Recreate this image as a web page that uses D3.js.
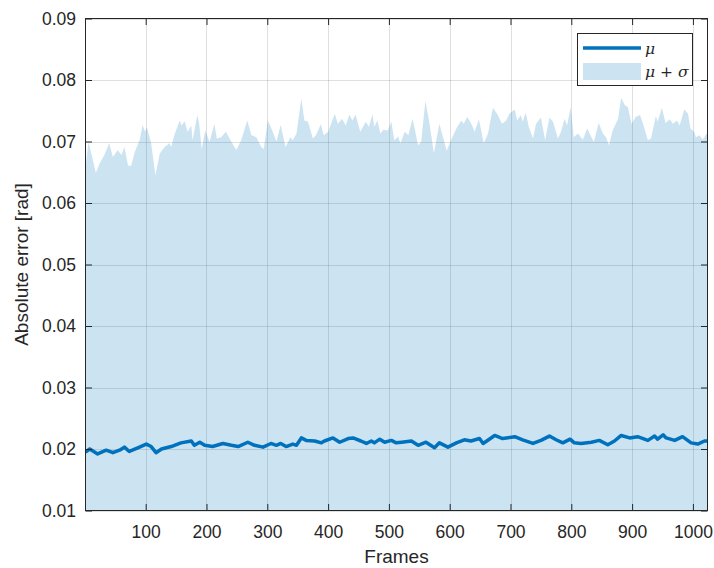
<!DOCTYPE html>
<html>
<head>
<meta charset="utf-8">
<script src="https://cdn.jsdelivr.net/npm/d3@7"></script>
<style>
  html, body { margin: 0; padding: 0; background: #fff; }
  svg { display: block; font-family: "Liberation Sans", Arial, Helvetica, sans-serif; }
</style>
</head>
<body>
<svg id="chart" width="714" height="568"></svg>
<script>
// Upper envelope (mean + std) of the absolute error per frame
const upperFrames = [1,6,18,24,32,40,46,54,60,65,71,76,82,90,95,99,102,109,116,123,131,139,142,147,156,159,164,169,175,177,185,188,192,198,205,213,217,224,232,241,249,257,267,274,282,290,294,301,308,315,322,330,338,342,348,356,361,367,375,380,388,393,400,411,416,423,429,435,440,445,453,462,467,473,476,481,486,491,498,504,509,515,519,526,532,539,548,553,560,566,574,583,595,602,611,619,623,629,637,641,648,656,663,671,678,686,693,698,707,711,717,720,725,730,737,742,750,757,764,770,778,783,789,793,799,804,811,819,826,837,845,852,857,862,868,877,882,888,893,899,906,913,918,926,931,939,942,949,955,962,967,974,978,986,992,996,1002,1005,1011,1016,1022,1024];
const upperValues = [0.0659,0.0699,0.0649,0.0664,0.0678,0.0697,0.0675,0.0686,0.0678,0.0691,0.0661,0.0660,0.0683,0.0702,0.0727,0.0716,0.0723,0.0697,0.0645,0.0680,0.0691,0.0697,0.0691,0.0710,0.0734,0.0726,0.0733,0.0716,0.0726,0.0702,0.0743,0.0729,0.0688,0.0718,0.0699,0.0729,0.0705,0.0707,0.0716,0.0699,0.0686,0.0702,0.0734,0.0710,0.0707,0.0691,0.0688,0.0734,0.0718,0.0700,0.0727,0.0691,0.0707,0.0702,0.0713,0.0770,0.0734,0.0732,0.0705,0.0710,0.0728,0.0710,0.0716,0.0745,0.0729,0.0737,0.0726,0.0744,0.0734,0.0744,0.0716,0.0732,0.0724,0.0744,0.0724,0.0734,0.0713,0.0719,0.0718,0.0732,0.0702,0.0708,0.0697,0.0716,0.0710,0.0737,0.0694,0.0699,0.0766,0.0734,0.0681,0.0729,0.0685,0.0702,0.0721,0.0734,0.0729,0.0740,0.0726,0.0716,0.0736,0.0697,0.0713,0.0755,0.0745,0.0729,0.0734,0.0745,0.0752,0.0734,0.0743,0.0732,0.0747,0.0724,0.0705,0.0729,0.0739,0.0702,0.0739,0.0732,0.0705,0.0716,0.0737,0.0726,0.0756,0.0707,0.0713,0.0703,0.0721,0.0699,0.0730,0.0713,0.0707,0.0694,0.0718,0.0737,0.0771,0.0759,0.0756,0.0729,0.0740,0.0743,0.0729,0.0702,0.0705,0.0741,0.0732,0.0755,0.0730,0.0736,0.0729,0.0734,0.0726,0.0752,0.0745,0.0721,0.0716,0.0707,0.0710,0.0703,0.0712,0.0712];

// Mean absolute error per frame
const meanFrames = [1,8,21,35,46,57,65,73,87,101,109,117,126,142,158,175,180,189,197,210,227,241,252,268,279,293,306,315,322,331,342,348,356,364,378,389,394,408,419,433,441,454,463,471,476,485,493,504,512,521,537,548,561,575,583,597,611,624,635,649,655,674,687,707,720,737,750,764,775,786,798,805,816,833,846,860,871,882,896,909,926,937,942,951,956,970,983,997,1008,1019,1024];
const meanValues = [0.0195,0.0200,0.0192,0.0198,0.0194,0.0198,0.0203,0.0196,0.0202,0.0208,0.0204,0.0194,0.0200,0.0204,0.0210,0.0213,0.0206,0.0211,0.0206,0.0204,0.0209,0.0206,0.0204,0.0211,0.0206,0.0203,0.0209,0.0206,0.0209,0.0204,0.0208,0.0206,0.0218,0.0214,0.0213,0.0210,0.0213,0.0218,0.0211,0.0217,0.0218,0.0213,0.0209,0.0213,0.0210,0.0216,0.0211,0.0214,0.0210,0.0211,0.0213,0.0206,0.0211,0.0202,0.0210,0.0203,0.0210,0.0215,0.0213,0.0217,0.0209,0.0222,0.0217,0.0220,0.0215,0.0209,0.0214,0.0221,0.0215,0.0210,0.0216,0.0210,0.0209,0.0211,0.0214,0.0207,0.0213,0.0222,0.0218,0.0220,0.0214,0.0221,0.0216,0.0223,0.0218,0.0214,0.0220,0.0210,0.0208,0.0213,0.0213];

const xTicks = [100,200,300,400,500,600,700,800,900,1000];
const yTicks = [0.01,0.02,0.03,0.04,0.05,0.06,0.07,0.08,0.09];
const legendLabels = ["μ", "μ + σ"];

const lineColor = "#0072BD";
const axisColor = "#262626";

const svg = d3.select("#chart");
const plotLeft = 85.5, plotRight = 707.5, plotTop = 18.5, plotBottom = 510.5;

const x = d3.scaleLinear().domain([1, 1024]).range([plotLeft, plotRight]);
const y = d3.scaleLinear().domain([0.01, 0.09]).range([plotBottom, plotTop]);

svg.append("defs").append("clipPath").attr("id", "plotClip")
  .append("rect").attr("x", plotLeft).attr("y", plotTop)
  .attr("width", plotRight - plotLeft).attr("height", plotBottom - plotTop);

// white plot background
svg.append("rect").attr("x", plotLeft).attr("y", plotTop)
  .attr("width", plotRight - plotLeft).attr("height", plotBottom - plotTop).attr("fill", "#fff");

// grid
const grid = svg.append("g").attr("stroke", axisColor).attr("stroke-opacity", 0.15).attr("stroke-width", 1);
xTicks.forEach(t => grid.append("line")
  .attr("x1", Math.round(x(t)) + 0.5).attr("x2", Math.round(x(t)) + 0.5)
  .attr("y1", plotTop).attr("y2", plotBottom));
yTicks.forEach(t => grid.append("line")
  .attr("x1", plotLeft).attr("x2", plotRight)
  .attr("y1", Math.round(y(t)) + 0.5).attr("y2", Math.round(y(t)) + 0.5));

const plot = svg.append("g").attr("clip-path", "url(#plotClip)");

// shaded band up to mean + std
const upper = upperFrames.map((f, i) => ({ f, v: upperValues[i] }));
plot.append("path")
  .datum(upper)
  .attr("fill", lineColor).attr("fill-opacity", 0.2)
  .attr("d", d3.area().x(d => x(d.f)).y0(y(0)).y1(d => y(d.v)));

// mean line
const mean = meanFrames.map((f, i) => ({ f, v: meanValues[i] }));
plot.append("path")
  .datum(mean)
  .attr("fill", "none").attr("stroke", lineColor)
  .attr("stroke-width", 3.5).attr("stroke-linejoin", "round")
  .attr("d", d3.line().x(d => x(d.f)).y(d => y(d.v)));

// axes
const tickFont = 17.5;
function styleAxis(g) {
  g.select(".domain").remove();
  g.selectAll(".tick line").attr("stroke", axisColor);
  g.selectAll(".tick text").attr("fill", axisColor).attr("font-size", tickFont)
    .attr("font-family", "'Liberation Sans', Arial, sans-serif");
}
svg.append("g").attr("transform", `translate(0,${plotBottom})`)
  .call(d3.axisBottom(x).tickValues(xTicks).tickSizeInner(-6.5).tickSizeOuter(0).tickPadding(15).tickFormat(d3.format("d")))
  .call(styleAxis);
svg.append("g").attr("transform", `translate(0,${plotTop})`)
  .call(d3.axisTop(x).tickValues(xTicks).tickSizeInner(-6.5).tickSizeOuter(0).tickFormat(""))
  .call(styleAxis);
svg.append("g").attr("transform", `translate(${plotLeft},0)`)
  .call(d3.axisLeft(y).tickValues(yTicks).tickSizeInner(-6.5).tickSizeOuter(0).tickPadding(9.5).tickFormat(d3.format(".2f")))
  .call(styleAxis);
svg.append("g").attr("transform", `translate(${plotRight},0)`)
  .call(d3.axisRight(y).tickValues(yTicks).tickSizeInner(-6.5).tickSizeOuter(0).tickFormat(""))
  .call(styleAxis);

// box
svg.append("rect").attr("x", plotLeft).attr("y", plotTop)
  .attr("width", plotRight - plotLeft).attr("height", plotBottom - plotTop)
  .attr("fill", "none").attr("stroke", axisColor).attr("stroke-width", 1);

// axis labels
svg.append("text").attr("x", (plotLeft + plotRight) / 2).attr("y", 563)
  .attr("text-anchor", "middle").attr("font-size", 19).attr("fill", axisColor)
  .text("Frames");
svg.append("text").attr("transform", `translate(28,${(plotTop + plotBottom) / 2}) rotate(-90)`)
  .attr("text-anchor", "middle").attr("font-size", 19).attr("fill", axisColor)
  .text("Absolute error [rad]");

// legend
const lg = svg.append("g");
lg.append("rect").attr("x", 577.5).attr("y", 33.5).attr("width", 115).attr("height", 52)
  .attr("fill", "#fff").attr("stroke", axisColor).attr("stroke-width", 1);
lg.append("line").attr("x1", 583).attr("x2", 641).attr("y1", 48).attr("y2", 48)
  .attr("stroke", lineColor).attr("stroke-width", 3.5);
lg.append("rect").attr("x", 583).attr("y", 63).attr("width", 58).attr("height", 17)
  .attr("fill", lineColor).attr("fill-opacity", 0.2);

function legendText(yPos, parts) {
  const t = lg.append("text").attr("x", 645).attr("y", yPos)
    .attr("font-size", 15.5).attr("fill", axisColor)
    .attr("font-family", "'DejaVu Serif', 'Liberation Serif', serif");
  parts.forEach(p => t.append("tspan").attr("font-style", p.italic ? "italic" : "normal").text(p.s));
}
legendText(54, [{ s: legendLabels[0], italic: true }]);
legendText(77, [{ s: "μ", italic: true }, { s: " + " }, { s: "σ", italic: true }]);
</script>
</body>
</html>
